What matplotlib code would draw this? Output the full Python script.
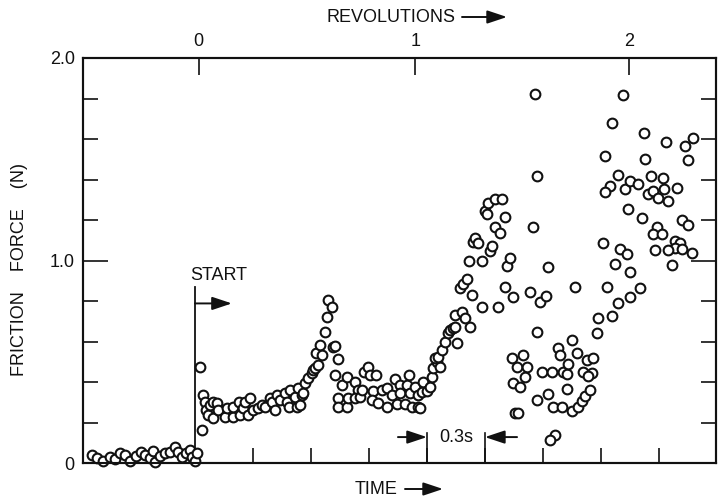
import matplotlib
matplotlib.use('Agg')
import matplotlib.pyplot as plt
from matplotlib.ticker import MultipleLocator

plt.rcParams['font.family'] = ['Liberation Sans', 'DejaVu Sans']

# time after start (s) and friction force (N)
time_s = [
    -0.533, -0.507, -0.476, -0.440, -0.414, -0.388, -0.362, -0.336, -0.305, -0.279,
    -0.259, -0.233, -0.217, -0.207, -0.181, -0.155, -0.129, -0.103, -0.088, -0.067,
    -0.047, -0.026, -0.016, 0.000, 0.010,
    0.026, 0.036, 0.041, 0.052, 0.057, 0.067, 0.078, 0.093, 0.093, 0.114,
    0.119, 0.155, 0.166, 0.197, 0.197, 0.228, 0.233, 0.248, 0.259, 0.274,
    0.285, 0.300, 0.326, 0.347, 0.362, 0.388, 0.398, 0.414, 0.424, 0.440,
    0.466, 0.476, 0.486, 0.491, 0.517, 0.528, 0.533, 0.543, 0.554, 0.559,
    0.569, 0.585, 0.605, 0.610, 0.621, 0.636, 0.626, 0.647, 0.657, 0.672,
    0.683, 0.688, 0.709, 0.714, 0.724, 0.740, 0.724, 0.760, 0.786, 0.740,
    0.740, 0.786, 0.791, 0.828, 0.843, 0.828,
    0.854, 0.864, 0.874, 0.895, 0.905, 0.936, 0.921, 0.916, 0.947, 0.967,
    0.993, 0.993, 1.019, 1.035, 1.045, 1.060, 1.060, 1.086, 1.097, 1.107,
    1.112, 1.138, 1.123, 1.154, 1.154, 1.164, 1.174, 1.179, 1.200, 1.216,
    1.226, 1.231, 1.252, 1.267, 1.241, 1.257, 1.278, 1.293, 1.309, 1.319,
    1.335, 1.345, 1.355, 1.345, 1.381, 1.397, 1.423, 1.371, 1.386, 1.407,
    1.433, 1.417, 1.485, 1.438, 1.448, 1.464, 1.526, 1.536, 1.552, 1.578,
    1.500, 1.511, 1.516, 1.552, 1.588, 1.604, 1.614, 1.629, 1.604, 1.645,
    1.567, 1.485,
    1.733, 1.785, 1.816, 1.748, 1.769, 1.759, 1.769, 1.640, 1.697, 1.666,
    1.717, 1.707, 1.645, 1.681, 1.655, 1.671, 1.769, 1.795, 1.826, 1.826,
    1.852, 1.862, 1.836, 1.878, 1.888, 1.847, 1.904, 1.924, 1.898, 1.950,
    1.981, 2.002, 2.017, 2.043, 1.924, 1.950, 1.976, 2.028, 2.059, 1.929,
    2.007, 2.054, 2.033, 2.080, 2.085, 2.157, 2.188, 1.966, 2.131, 2.250,
    2.302, 2.111, 2.199, 2.235, 2.173, 2.250, 2.121, 2.157, 2.214, 2.188,
    2.147, 2.121, 2.224, 2.240, 2.323, 2.436, 2.535, 2.576, 2.328, 2.550,
    2.250, 2.292, 2.359, 2.421, 2.343, 2.369, 2.395, 2.426, 2.447, 2.493,
    2.312, 2.519, 2.550, 2.390, 2.369, 2.416, 2.483, 2.509, 2.483, 2.519,
    2.571, 2.447, 2.380, 2.467,
]

force_n = [
    0.039, 0.025, 0.010, 0.030, 0.020, 0.049, 0.039, 0.010, 0.034, 0.054,
    0.039, 0.025, 0.059, 0.005, 0.034, 0.049, 0.054, 0.079, 0.054, 0.030,
    0.049, 0.064, 0.030, 0.010, 0.049,
    0.473, 0.163, 0.335, 0.300, 0.261, 0.236, 0.286, 0.222, 0.300, 0.296,
    0.261, 0.227, 0.271, 0.227, 0.276, 0.300, 0.236, 0.271, 0.300, 0.236,
    0.320, 0.261, 0.271, 0.286, 0.276, 0.320, 0.300, 0.261, 0.335, 0.310,
    0.345, 0.300, 0.276, 0.360, 0.325, 0.276, 0.369, 0.286, 0.335, 0.345,
    0.394, 0.419, 0.443, 0.458, 0.468, 0.483, 0.542, 0.581, 0.532, 0.645,
    0.719, 0.803, 0.768, 0.571, 0.576, 0.512, 0.433, 0.384, 0.424, 0.320,
    0.276, 0.276, 0.320, 0.399, 0.360, 0.320,
    0.325, 0.360, 0.448, 0.473, 0.433, 0.433, 0.355, 0.310, 0.296, 0.360,
    0.276, 0.369, 0.335, 0.414, 0.291, 0.384, 0.345, 0.291, 0.384, 0.433,
    0.345, 0.374, 0.276, 0.276, 0.335, 0.271, 0.350, 0.399, 0.355, 0.374,
    0.424, 0.468, 0.498, 0.473, 0.517, 0.522, 0.557, 0.596, 0.640, 0.655,
    0.665, 0.670, 0.591, 0.729, 0.744, 0.714, 0.670, 0.862, 0.882, 0.911,
    0.828, 1.000, 1.000, 1.089, 1.113, 1.084, 1.049, 1.074, 1.163, 1.138,
    1.246, 1.232, 1.286, 1.305, 1.305, 1.217, 0.975, 1.010, 0.867, 0.818,
    0.768, 0.768,
    0.842, 0.793, 0.823, 1.163, 1.419, 1.823, 0.645, 0.517, 0.532, 0.473,
    0.473, 0.424, 0.394, 0.374, 0.246, 0.246, 0.310, 0.448, 0.966, 0.340,
    0.276, 0.138, 0.113, 0.567, 0.532, 0.448, 0.448, 0.438, 0.276, 0.256,
    0.276, 0.305, 0.330, 0.360, 0.365, 0.606, 0.542, 0.507, 0.517, 0.488,
    0.448, 0.443, 0.429, 0.640, 0.714, 0.724, 0.788, 0.867, 0.867, 0.818,
    0.862, 1.084, 1.059, 1.034, 0.985, 0.941, 1.517, 1.680, 1.818, 1.424,
    1.369, 1.340, 1.355, 1.256, 1.631, 1.586, 1.567, 1.606, 1.502, 1.498,
    1.394, 1.379, 1.419, 1.409, 1.330, 1.345, 1.310, 1.355, 1.296, 1.360,
    1.212, 1.202, 1.177, 1.163, 1.133, 1.133, 1.094, 1.084, 1.064, 1.059,
    1.039, 1.054, 1.054, 0.980,
]

time_ticks = [0.3, 0.6, 0.9, 1.2, 1.5, 1.8, 2.1, 2.4]
rev_ticks = [0.02, 1.14, 2.245]
rev_labels = ['0', '1', '2']
force_ticks = [0, 1.0, 2.0]
force_labels = ['0', '1.0', '2.0']

ink = '#111111'
fs = 13
arrow = dict(arrowstyle='-|>,head_length=0.6,head_width=0.2',
             color=ink, lw=1.4, mutation_scale=20, shrinkA=0, shrinkB=0)

fig = plt.figure(figsize=(7.18, 5.0), dpi=100)
ax = fig.add_axes([83 / 718, 37 / 500, 633 / 718, 405 / 500])

ax.plot(time_s, force_n, 'o', ls='none', mfc='white', mec=ink,
        ms=7.0, mew=1.5, clip_on=False, zorder=3)

ax.set_xlim(-0.579, 2.695)
ax.set_ylim(0, 2.0)

for s in ax.spines.values():
    s.set_linewidth(1.5)
    s.set_color(ink)

ax.set_xticks(time_ticks)
ax.set_xticklabels([])
ax.tick_params(axis='x', direction='in', length=11, width=1.2, color=ink, top=False)

ax.set_yticks(force_ticks)
ax.set_yticklabels(force_labels)
ax.yaxis.set_minor_locator(MultipleLocator(0.2))
ax.tick_params(axis='y', which='major', direction='in', length=18, width=1.2,
               color=ink, left=True, right=True, labelsize=fs, pad=6, labelcolor=ink)
ax.tick_params(axis='y', which='minor', direction='in', length=11, width=1.2,
               color=ink, left=True, right=True)

top = ax.twiny()
top.set_xlim(ax.get_xlim())
top.set_xticks(rev_ticks)
top.set_xticklabels(rev_labels)
top.tick_params(axis='x', direction='in', length=12, width=1.2, color=ink,
                labelsize=fs, pad=6, labelcolor=ink)
for s in top.spines.values():
    s.set_linewidth(1.5)
    s.set_color(ink)

# start marker
ax.plot([0, 0], [0, 0.867], color=ink, lw=1.3)
ax.annotate('', xy=(0.191, 0.788), xytext=(0, 0.788), arrowprops=arrow)
ax.text(-0.026, 0.926, 'START', fontsize=fs, color=ink, va='center', ha='left')

# 0.3 s interval
ax.plot([1.2, 1.2], [0, 0.148], color=ink, lw=1.2)
ax.plot([1.5, 1.5], [0, 0.148], color=ink, lw=1.2)
ax.annotate('', xy=(1.2, 0.128), xytext=(1.05, 0.128), arrowprops=arrow)
ax.annotate('', xy=(1.5, 0.128), xytext=(1.666, 0.128), arrowprops=arrow)
ax.text(1.35, 0.128, '0.3s', fontsize=fs, color=ink, va='center', ha='center')

# axis titles
fig.text(20 / 718, 1 - 270 / 500, 'FRICTION    FORCE    (N)', rotation=90,
         ha='center', va='center', fontsize=fs, color=ink)
fig.text(327 / 718, 1 - 18 / 500, 'REVOLUTIONS', ha='left', va='center',
         fontsize=fs, color=ink)
fig.text(355 / 718, 1 - 490 / 500, 'TIME', ha='left', va='center',
         fontsize=fs, color=ink)
ax.annotate('', xy=(507 / 718, 1 - 17 / 500), xytext=(462 / 718, 1 - 17 / 500),
            xycoords='figure fraction', textcoords='figure fraction', arrowprops=arrow)
ax.annotate('', xy=(443 / 718, 1 - 489 / 500), xytext=(405 / 718, 1 - 489 / 500),
            xycoords='figure fraction', textcoords='figure fraction', arrowprops=arrow)

fig.savefig('out.png', dpi=100)
